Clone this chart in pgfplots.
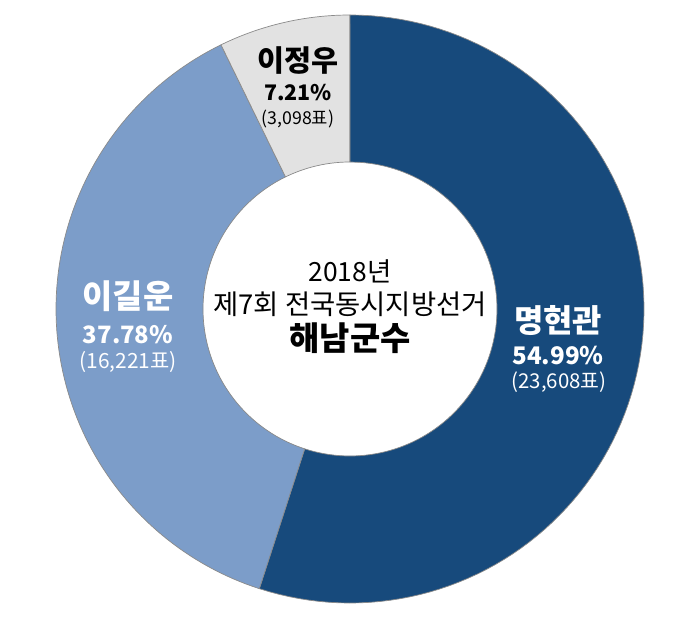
\documentclass[border=0pt]{standalone}
\usepackage{fontspec}
\setmainfont{Noto Sans CJK KR}
\usepackage{pgfplots}
\pgfplotsset{compat=1.18}
\definecolor{cA}{HTML}{174A7C}
\definecolor{cB}{HTML}{7C9DC9}
\definecolor{cC}{HTML}{E2E2E2}
\definecolor{edge}{HTML}{8A8A8A}
% vote shares (%)
\def\pA{54.99}
\def\pB{37.78}
\def\pC{7.21}
\pgfmathsetmacro{\aA}{90}
\pgfmathsetmacro{\bA}{90-3.6*\pA}
\pgfmathsetmacro{\bB}{\bA-3.6*\pB}
\pgfmathsetmacro{\bC}{\bB-3.6*\pC}
\newcommand{\donutslice}[3]{%
\addplot[fill=#3, draw=edge, line width=0.7pt, line join=round, variable=\t,
  samples at={0,0.01,...,0.99,1,1.0001,1.01,1.02,...,1.99,2}]
 ({ifthenelse(\t<1.00005, 294*cos(#1+(#2-#1)*\t), 147*cos(#2+(#1-#2)*(\t-1)))},
  {ifthenelse(\t<1.00005, 294*sin(#1+(#2-#1)*\t), 147*sin(#2+(#1-#2)*(\t-1)))}) -- cycle;}
\begin{document}
\begin{tikzpicture}
\begin{axis}[scale only axis, width=700bp, height=618bp,
  xmin=-350, xmax=350, ymin=-309, ymax=309, hide axis, clip=false]
\path (rel axis cs:0,0) rectangle (rel axis cs:1,1);
\donutslice{\aA}{\bA}{cA}
\donutslice{\bA}{\bB}{cB}
\donutslice{\bB}{\bC}{cC}
% labels
\node[font=\fontsize{29.5}{32}\selectfont\bfseries] at (axis cs:-52,248) {이정우};
\node[font=\fontsize{21.5}{24}\selectfont\bfseries] at (axis cs:-52,216) {7.21\%};
\node[font=\fontsize{17.8}{20}\selectfont] at (axis cs:-52,190) {(3,098표)};
\node[white, font=\fontsize{32}{35}\selectfont\bfseries] at (axis cs:208,-12) {명현관};
\node[white, font=\fontsize{24.3}{27}\selectfont\bfseries] at (axis cs:208,-46) {54.99\%};
\node[white, font=\fontsize{20.5}{23}\selectfont] at (axis cs:209,-73) {(23,608표)};
\node[white, font=\fontsize{33}{36}\selectfont\bfseries] at (axis cs:-222,13) {이길운};
\node[white, font=\fontsize{24}{27}\selectfont\bfseries] at (axis cs:-222,-26) {37.78\%};
\node[white, font=\fontsize{21}{24}\selectfont] at (axis cs:-222,-53) {(16,221표)};
\node[font=\fontsize{26.5}{29}\selectfont] at (axis cs:0,38) {2018년};
\node[font=\fontsize{27.5}{30}\selectfont] at (axis cs:0,5) {제7회 전국동시지방선거};
\node[font=\fontsize{33}{36}\selectfont\bfseries] at (axis cs:0,-29) {해남군수};
\end{axis}
\end{tikzpicture}
\end{document}
